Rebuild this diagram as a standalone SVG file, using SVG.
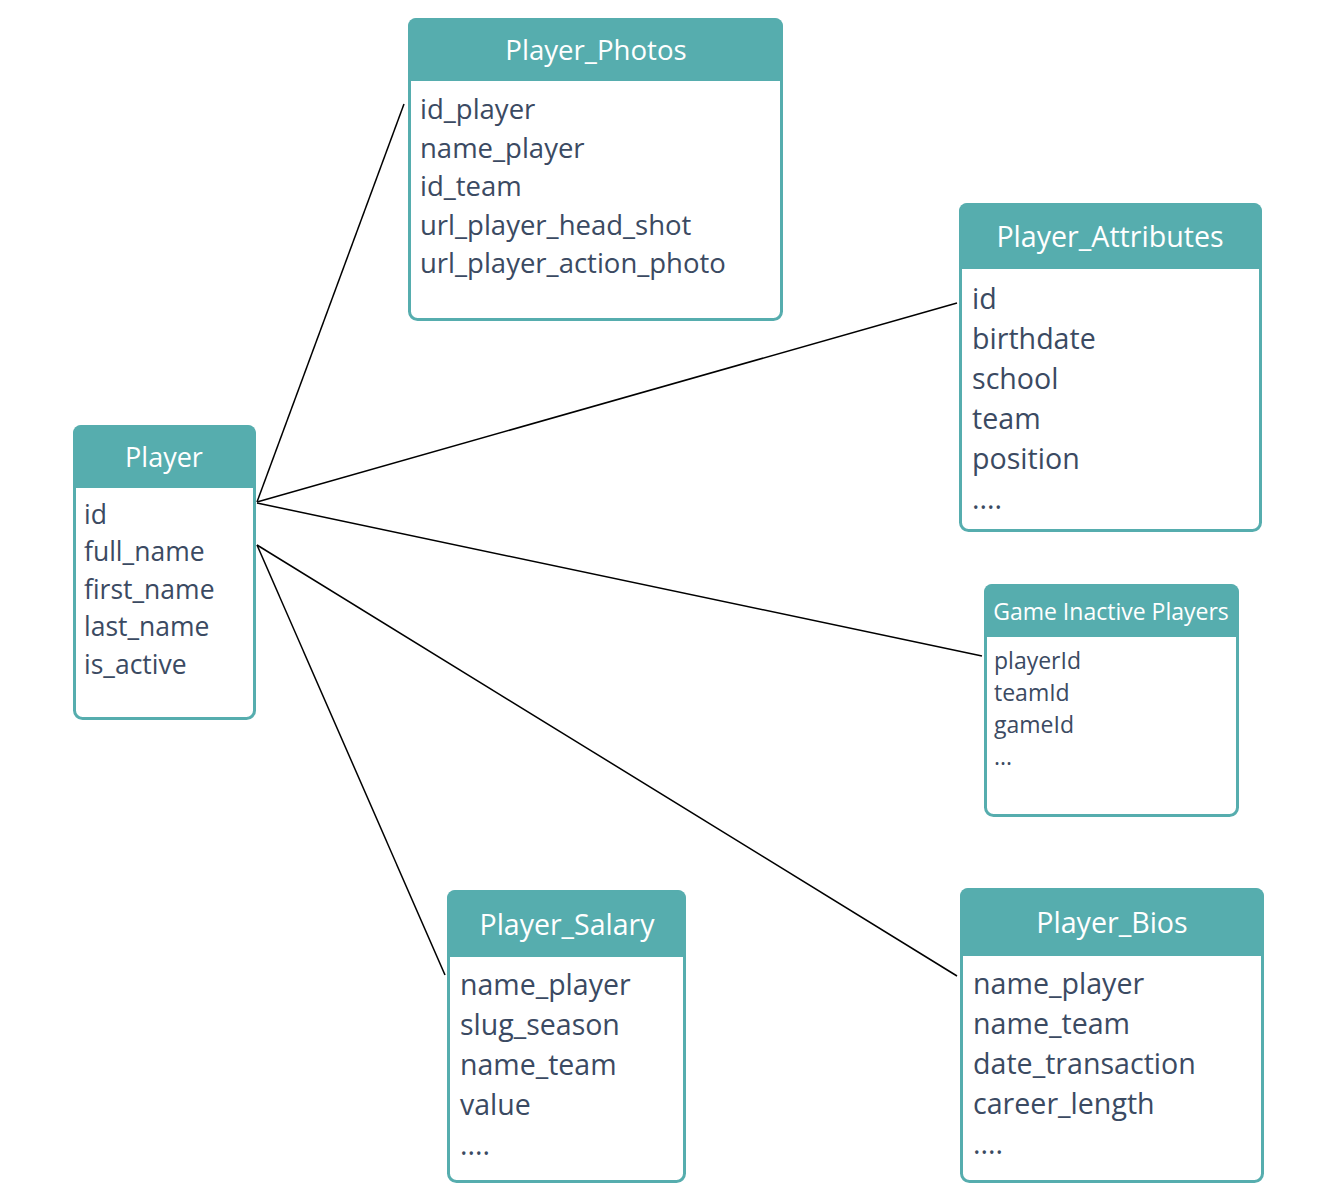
<svg xmlns="http://www.w3.org/2000/svg" width="1322" height="1194" viewBox="0 0 1322 1194">
<style>
.body{fill:#ffffff;stroke:#56adae;stroke-width:3}
.head{fill:#56adae}
.title{font-family:"Open Sans","Noto Sans",sans-serif;fill:#ffffff;text-anchor:middle}
.field{font-family:"Open Sans","Noto Sans",sans-serif;fill:#3b4a62}
.conn line{stroke:#000000;stroke-width:1.5;fill:none}
</style>
<rect width="1322" height="1194" fill="#ffffff"/>
<g id="connectors" class="conn">
<line x1="257" y1="502" x2="404" y2="104"/>
<line x1="257" y1="502" x2="957" y2="303"/>
<line x1="257" y1="503" x2="982" y2="656"/>
<line x1="257" y1="545" x2="957" y2="976"/>
<line x1="257" y1="545" x2="445" y2="975"/>
</g>
<g id="player">
<rect class="body" x="74.5" y="426.5" width="180" height="292" rx="8"/>
<path class="head" d="M73,488 V433 a8,8 0 0 1 8,-8 H248 a8,8 0 0 1 8,8 V488 Z"/>
<text class="title" x="164" y="467" font-size="27">Player</text>
<g class="field" font-size="26.5">
<text x="84" y="524">id</text>
<text x="84" y="561">full_name</text>
<text x="84" y="599">first_name</text>
<text x="84" y="636">last_name</text>
<text x="84" y="674">is_active</text>
</g>
</g>
<g id="player_photos">
<rect class="body" x="409.5" y="19.5" width="372" height="300" rx="8"/>
<path class="head" d="M408,81 V26 a8,8 0 0 1 8,-8 H775 a8,8 0 0 1 8,8 V81 Z"/>
<text class="title" x="596" y="60" font-size="27.6">Player_Photos</text>
<g class="field" font-size="27.5">
<text x="420" y="119">id_player</text>
<text x="420" y="158">name_player</text>
<text x="420" y="196">id_team</text>
<text x="420" y="235">url_player_head_shot</text>
<text x="420" y="273">url_player_action_photo</text>
</g>
</g>
<g id="player_attributes">
<rect class="body" x="960.5" y="204.5" width="300" height="326" rx="8"/>
<path class="head" d="M959,269 V211 a8,8 0 0 1 8,-8 H1254 a8,8 0 0 1 8,8 V269 Z"/>
<text class="title" x="1110" y="247" font-size="28.6">Player_Attributes</text>
<g class="field" font-size="28.6">
<text x="972" y="309">id</text>
<text x="972" y="349">birthdate</text>
<text x="972" y="389">school</text>
<text x="972" y="429">team</text>
<text x="972" y="469">position</text>
<text x="972" y="509">....</text>
</g>
</g>
<g id="game_inactive_players">
<rect class="body" x="985.5" y="585.5" width="252" height="230" rx="8"/>
<path class="head" d="M984,637 V592 a8,8 0 0 1 8,-8 H1231 a8,8 0 0 1 8,8 V637 Z"/>
<text class="title" x="1111" y="620" font-size="23">Game Inactive Players</text>
<g class="field" font-size="23">
<text x="994" y="669">playerId</text>
<text x="994" y="701">teamId</text>
<text x="994" y="733">gameId</text>
<text x="994" y="765">...</text>
</g>
</g>
<g id="player_salary">
<rect class="body" x="448.5" y="891.5" width="236" height="290" rx="8"/>
<path class="head" d="M447,957 V898 a8,8 0 0 1 8,-8 H678 a8,8 0 0 1 8,8 V957 Z"/>
<text class="title" x="567" y="935" font-size="28.5">Player_Salary</text>
<g class="field" font-size="28.5">
<text x="460" y="995">name_player</text>
<text x="460" y="1035">slug_season</text>
<text x="460" y="1075">name_team</text>
<text x="460" y="1115">value</text>
<text x="460" y="1155">....</text>
</g>
</g>
<g id="player_bios">
<rect class="body" x="961.5" y="889.5" width="301" height="292" rx="8"/>
<path class="head" d="M960,956 V896 a8,8 0 0 1 8,-8 H1256 a8,8 0 0 1 8,8 V956 Z"/>
<text class="title" x="1112" y="933" font-size="28.6">Player_Bios</text>
<g class="field" font-size="28.6">
<text x="973" y="994">name_player</text>
<text x="973" y="1034">name_team</text>
<text x="973" y="1074">date_transaction</text>
<text x="973" y="1114">career_length</text>
<text x="973" y="1154">....</text>
</g>
</g>
</svg>
